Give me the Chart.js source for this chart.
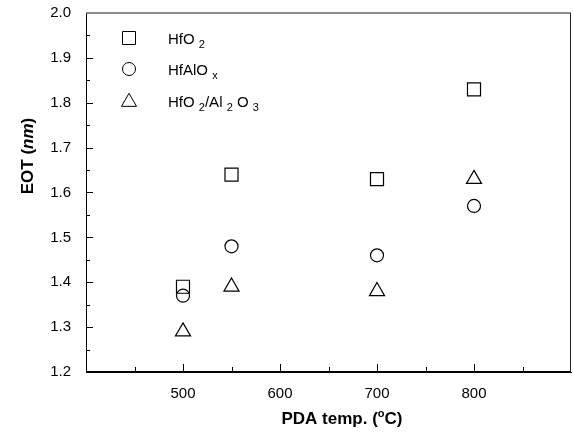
<!DOCTYPE html>
<html>
<head>
<meta charset="utf-8">
<script src="https://cdn.jsdelivr.net/npm/chart.js@4"></script>
<style>
  body { margin: 0; background: #fff; overflow: hidden; }
  #wrap { width: 573px; height: 434px; }
  canvas { display: block; }
</style>
</head>
<body>
<div id="wrap"><canvas id="c" width="573" height="434"></canvas></div>
<script>
// data
const temps = [500, 550, 700, 800];
const hfo2 = [1.39, 1.64, 1.63, 1.83];
const hfalox = [1.37, 1.48, 1.46, 1.57];
const hfo2al2o3 = [1.29, 1.39, 1.38, 1.63];
const xTickLabels = [500, 600, 700, 800];

const FONT = "'Liberation Sans', Arial, sans-serif";
const AREA_RIGHT = 571; // where the plot frame should end

const toPts = (ys) => temps.map((t, i) => ({ x: t, y: ys[i] }));

// chart.js keeps extra room at the right, pin the x scale to the frame
const fixArea = {
  id: 'fixArea',
  afterLayout(chart) {
    const xs = chart.scales.x;
    const a = chart.chartArea;
    a.right = AREA_RIGHT;
    a.width = AREA_RIGHT - a.left;
    xs.left = a.left;
    xs.right = AREA_RIGHT;
    xs.width = AREA_RIGHT - a.left;
    xs.configure();
    xs._labelItems = null;
    xs._gridLineItems = null;
  }
};

// inward ticks, frame, legend with subscripts, axis titles
const decorations = {
  id: 'decorations',
  afterDraw(chart) {
    const ctx = chart.ctx;
    const xs = chart.scales.x, ys = chart.scales.y;
    const a = chart.chartArea;
    ctx.save();
    ctx.strokeStyle = '#000';
    ctx.lineWidth = 1;
    // x ticks
    for (let v = 450; v < 900; v += 50) {
      const px = Math.round(xs.getPixelForValue(v)) + 0.5;
      const len = v % 100 === 0 ? 8 : 5;
      ctx.beginPath();
      ctx.moveTo(px, a.bottom);
      ctx.lineTo(px, a.bottom - len);
      ctx.stroke();
    }
    // y ticks
    for (let k = 1; k < 16; k++) {
      const v = 1.2 + k * 0.05;
      const py = Math.round(ys.getPixelForValue(v)) + 0.5;
      const len = k % 2 === 0 ? 7 : 4;
      ctx.beginPath();
      ctx.moveTo(a.left, py);
      ctx.lineTo(a.left + len, py);
      ctx.stroke();
    }
    // frame: bottom, top, right
    ctx.beginPath();
    ctx.moveTo(a.left, a.bottom - 0.5);
    ctx.lineTo(a.right, a.bottom - 0.5);
    ctx.stroke();
    ctx.strokeStyle = '#666';
    ctx.lineWidth = 1.5;
    ctx.beginPath();
    ctx.moveTo(a.left, a.top);
    ctx.lineTo(a.right, a.top);
    ctx.stroke();
    ctx.strokeStyle = '#222';
    ctx.lineWidth = 1;
    ctx.beginPath();
    ctx.moveTo(a.right - 0.5, a.top);
    ctx.lineTo(a.right - 0.5, a.bottom);
    ctx.stroke();

    // legend
    const items = [
      { style: 'rect', r: 9.2, parts: [['HfO ', 0], ['2', 1]] },
      { style: 'circle', r: 6.5, parts: [['HfAlO ', 0], ['x', 1]] },
      { style: 'triangle', r: 8.7, parts: [['HfO ', 0], ['2', 1], ['/Al ', 0], ['2', 1], [' O ', 0], ['3', 1]] }
    ];
    const rowY = [38, 69, 101];
    items.forEach((it, i) => {
      const cy = rowY[i];
      ctx.strokeStyle = '#000';
      ctx.fillStyle = 'rgba(0,0,0,0)';
      Chart.helpers.drawPoint(ctx, {
        pointStyle: it.style, radius: it.r, rotation: 0, borderWidth: 1.2
      }, 129, it.style === 'triangle' ? cy + 1 : cy);
      let x = 168;
      ctx.fillStyle = '#000';
      ctx.textBaseline = 'alphabetic';
      ctx.textAlign = 'left';
      it.parts.forEach(([t, sub]) => {
        ctx.font = (sub ? '11px ' : '15px ') + FONT;
        ctx.fillText(t, x, cy + 6 + (sub ? 4 : 0));
        x += ctx.measureText(t).width;
      });
    });

    // x title
    ctx.fillStyle = '#000';
    ctx.textBaseline = 'alphabetic';
    ctx.textAlign = 'left';
    const tparts = [['PDA temp. (', 17, 0], ['o', 11, -7], ['C)', 17, 0]];
    let total = 0;
    tparts.forEach(([t, s]) => { ctx.font = 'bold ' + s + 'px ' + FONT; total += ctx.measureText(t).width; });
    let tx = 342 - total / 2;
    tparts.forEach(([t, s, dy]) => {
      ctx.font = 'bold ' + s + 'px ' + FONT;
      ctx.fillText(t, tx, 424 + dy);
      tx += ctx.measureText(t).width;
    });

    // y title
    ctx.save();
    ctx.translate(33, 156);
    ctx.rotate(-Math.PI / 2);
    const yparts = [['EOT (', 'bold '], ['nm', 'bold italic '], [')', 'bold ']];
    total = 0;
    yparts.forEach(([t, f]) => { ctx.font = f + '17px ' + FONT; total += ctx.measureText(t).width; });
    let yx = -total / 2;
    yparts.forEach(([t, f]) => {
      ctx.font = f + '17px ' + FONT;
      ctx.fillText(t, yx, 0);
      yx += ctx.measureText(t).width;
    });
    ctx.restore();
    ctx.restore();
  }
};

const common = { borderColor: '#000', backgroundColor: 'rgba(0,0,0,0)', borderWidth: 1.2, showLine: false };

new Chart(document.getElementById('c'), {
  type: 'scatter',
  data: {
    datasets: [
      Object.assign({ label: 'HfO2', data: toPts(hfo2), pointStyle: 'rect', pointRadius: 9.2, pointHoverRadius: 9.2 }, common),
      Object.assign({ label: 'HfAlOx', data: toPts(hfalox), pointStyle: 'circle', pointRadius: 6.5, pointHoverRadius: 6.5 }, common),
      Object.assign({ label: 'HfO2/Al2O3', data: toPts(hfo2al2o3), pointStyle: 'triangle', pointRadius: 8.7, pointHoverRadius: 8.7 }, common)
    ]
  },
  options: {
    responsive: false,
    animation: false,
    events: [],
    layout: { padding: { top: 13, right: 2, left: 0, bottom: 0 } },
    plugins: { legend: { display: false }, tooltip: { enabled: false } },
    scales: {
      x: {
        type: 'linear', min: 400, max: 900,
        afterBuildTicks: (s) => { s.ticks = [400].concat(xTickLabels, [900]).map(v => ({ value: v })); },
        ticks: { font: { family: FONT, size: 15 }, color: '#000', padding: 13,
          callback: (v) => xTickLabels.includes(v) ? String(v) : '' },
        grid: { display: true, drawOnChartArea: false, drawTicks: false },
        border: { display: true, color: '#000', width: 1 },
        afterFit: (s) => { s.height = 62; s.paddingLeft = 0; s.paddingRight = 0; }
      },
      y: {
        min: 1.2, max: 2.0,
        ticks: { stepSize: 0.1, font: { family: FONT, size: 15 }, color: '#000', padding: 15,
          callback: (v) => v.toFixed(1) },
        grid: { display: true, drawOnChartArea: false, drawTicks: false },
        border: { display: true, color: '#000', width: 1 },
        afterFit: (s) => { s.width = 86; s.paddingTop = 0; s.paddingBottom = 0; }
      }
    }
  },
  plugins: [fixArea, decorations]
});
</script>
</body>
</html>
